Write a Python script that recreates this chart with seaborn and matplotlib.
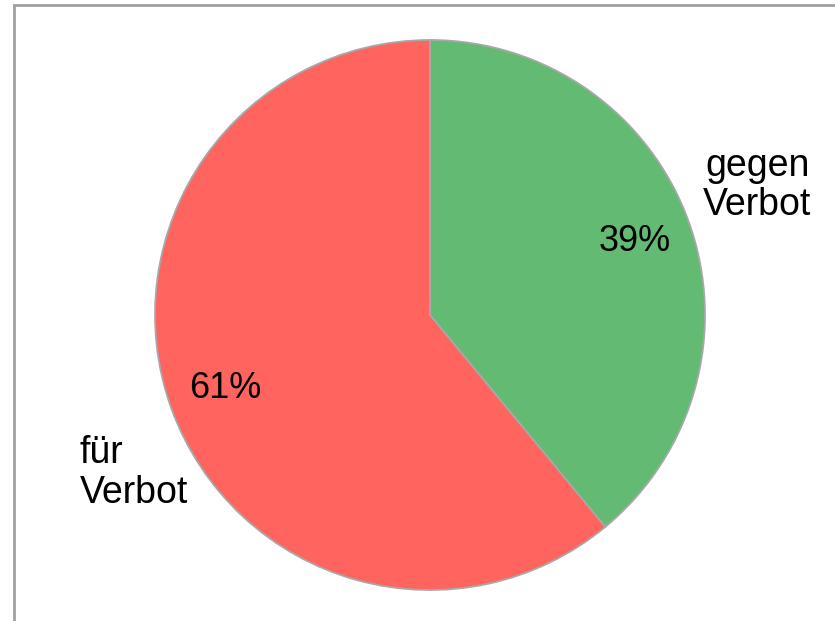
import matplotlib
matplotlib.use("Agg")
import matplotlib.pyplot as plt
import seaborn as sns
from matplotlib.patches import Rectangle

sns.set_style("white")
plt.rcParams['font.family'] = ['Liberation Sans', 'DejaVu Sans']

categories = ["gegen\nVerbot", "für\nVerbot"]
values = [39, 61]
colors = ["#62BA73", "#FF645E"]

FS_PCT = 26
FS_LBL = 27

fig = plt.figure(figsize=(8.35, 6.21), dpi=100)
fig.patch.set_facecolor("white")

# outer frame (top/left visible)
fig.patches.append(Rectangle((14 / 835, -0.05), 1.1, (621 - 5) / 621 + 0.05,
                             transform=fig.transFigure, fill=False,
                             edgecolor="#A0A0A0", linewidth=2.0, zorder=0))

ax = fig.add_axes([155 / 835, 31 / 621, 550 / 835, 550 / 621])
wedges, texts, autotexts = ax.pie(
    values, colors=colors, startangle=90, counterclock=False,
    autopct=lambda p: f"{p:.0f}%", pctdistance=0.79,
    wedgeprops=dict(edgecolor="#A8A8A8", linewidth=1.3),
    textprops=dict(fontsize=FS_PCT, color="black"))
ax.set_xlim(-1, 1)
ax.set_ylim(-1, 1)
ax.set_aspect("equal")

ax.text(1.19, 0.47, categories[0], ha="center", va="center",
        multialignment="center", fontsize=FS_LBL, color="black", clip_on=False,
        linespacing=1.12)
ax.text(-1.275, -0.575, categories[1], ha="left", va="center",
        multialignment="left", fontsize=FS_LBL, color="black", clip_on=False,
        linespacing=1.12)

fig.savefig("out.png", dpi=100)
